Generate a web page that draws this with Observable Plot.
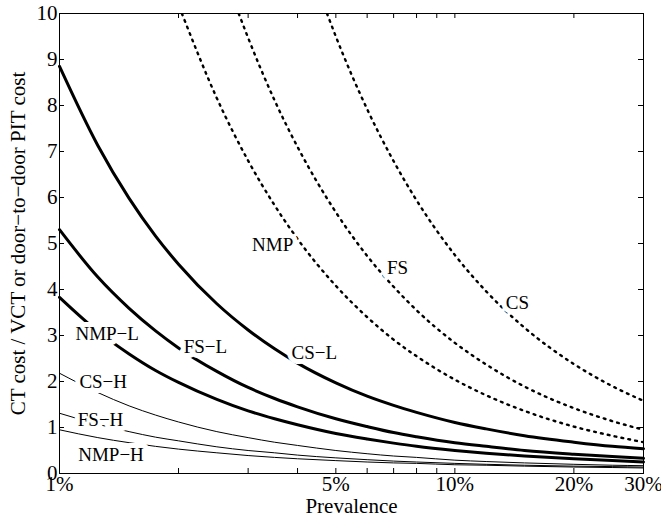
<!DOCTYPE html>
<html>
<head>
<meta charset="utf-8">
<script src="https://cdn.jsdelivr.net/npm/d3@7"></script>
<script src="https://cdn.jsdelivr.net/npm/@observablehq/plot@0.6"></script>
<style>
  html, body { margin: 0; padding: 0; background: #fff; }
</style>
</head>
<body>
<div id="chart"></div>
<script>
// ---- data ----
const prevalence = [1, 1.25, 1.5, 1.75, 2, 2.5, 3, 3.5, 4, 5, 6, 7, 8, 10, 12, 15, 20, 25, 30];
const csL  = [8.85, 7.13, 5.98, 5.16, 4.55, 3.69, 3.12, 2.71, 2.40, 1.97, 1.68, 1.48, 1.33, 1.11, 0.97, 0.82, 0.68, 0.59, 0.54];
const fsL  = [5.30, 4.27, 3.59, 3.10, 2.73, 2.22, 1.87, 1.63, 1.45, 1.19, 1.02, 0.89, 0.80, 0.67, 0.59, 0.50, 0.42, 0.37, 0.33];
const nmpL = [3.83, 3.09, 2.60, 2.24, 1.98, 1.61, 1.36, 1.19, 1.06, 0.87, 0.75, 0.66, 0.59, 0.50, 0.44, 0.38, 0.32, 0.28, 0.25];
const csH  = [2.18, 1.76, 1.47, 1.27, 1.12, 0.91, 0.78, 0.68, 0.61, 0.50, 0.43, 0.38, 0.35, 0.29, 0.26, 0.23, 0.20, 0.18, 0.17];
const fsH  = [1.31, 1.07, 0.91, 0.79, 0.71, 0.58, 0.50, 0.45, 0.40, 0.34, 0.30, 0.27, 0.25, 0.22, 0.20, 0.18, 0.16, 0.15, 0.14];
const nmpH = [0.95, 0.78, 0.67, 0.59, 0.53, 0.45, 0.39, 0.35, 0.32, 0.28, 0.25, 0.23, 0.22, 0.19, 0.18, 0.16, 0.14, 0.13, 0.12];

const nmpDotX = [2.04, 2.5, 3, 3.5, 4, 5, 6, 7, 8, 10, 12, 15, 20, 25, 30];
const nmpDot  = [10, 8.16, 6.80, 5.83, 5.10, 4.08, 3.40, 2.91, 2.55, 2.04, 1.70, 1.36, 1.02, 0.82, 0.68];
const fsDotX  = [2.84, 3, 3.5, 4, 5, 6, 7, 8, 10, 12, 15, 20, 25, 30];
const fsDot   = [10, 9.47, 8.11, 7.10, 5.68, 4.73, 4.06, 3.55, 2.84, 2.37, 1.89, 1.42, 1.14, 0.95];
const csDotX  = [4.75, 5, 6, 7, 8, 10, 12, 15, 20, 25, 30];
const csDot   = [10, 9.50, 7.92, 6.79, 5.94, 4.75, 3.96, 3.17, 2.38, 1.90, 1.58];

const labelText = ["NMP", "FS", "CS", "NMP\u2212L", "FS\u2212L", "CS\u2212L", "CS\u2212H", "FS\u2212H", "NMP\u2212H"];
const labelX    = [3.46, 7.16, 14.4, 1.32, 2.34, 4.41, 1.29, 1.27, 1.35];
const labelY    = [4.98, 4.46, 3.70, 3.04, 2.76, 2.63, 2.00, 1.17, 0.41];

const xTickLabels = [1, 5, 10, 20, 30];
const xTicks = [1, 2, 3, 4, 5, 6, 7, 8, 9, 10, 20, 30];
const yTicks = [0, 1, 2, 3, 4, 5, 6, 7, 8, 9, 10];

const xLabel = "Prevalence";
const yLabel = "CT cost / VCT or door\u2212to\u2212door PIT cost";

// ---- build tables ----
const rows = (xs, ys, name) => xs.map((x, i) => ({x, y: ys[i], name}));
const thick = [...rows(prevalence, csL, "CS-L"), ...rows(prevalence, fsL, "FS-L"), ...rows(prevalence, nmpL, "NMP-L")];
const thin  = [...rows(prevalence, csH, "CS-H"), ...rows(prevalence, fsH, "FS-H"), ...rows(prevalence, nmpH, "NMP-H")];
const dotted = [...rows(nmpDotX, nmpDot, "NMP"), ...rows(fsDotX, fsDot, "FS"), ...rows(csDotX, csDot, "CS")];
const labels = labelText.map((t, i) => ({t, x: labelX[i], y: labelY[i]}));

const W = 661, H = 520;
const mL = 59, mR = 18, mT = 13, mB = 47;
const pw = W - mL - mR, ph = H - mT - mB;
const tk = 5;
const serif = "'Liberation Serif', 'Times New Roman', Times, serif";

const chart = Plot.plot({
  width: W, height: H,
  marginLeft: mL, marginRight: mR, marginTop: mT, marginBottom: mB,
  x: {type: "log", domain: [1, 30], axis: null},
  y: {domain: [0, 10], axis: null},
  style: {fontFamily: serif, background: "white", color: "black", overflow: "visible"},
  marks: [
    Plot.line(thin, {x: "x", y: "y", z: "name", stroke: "black", strokeWidth: 1, curve: "monotone-x"}),
    Plot.line(thick, {x: "x", y: "y", z: "name", stroke: "black", strokeWidth: 3, curve: "monotone-x"}),
    Plot.line(dotted, {x: "x", y: "y", z: "name", stroke: "black", strokeWidth: 2.4, strokeDasharray: "1.8,5.2", curve: "monotone-x", clip: true}),
    Plot.text(labels, {x: "x", y: "y", text: "t", fontSize: 19, fill: "black", stroke: "white", strokeWidth: 10, paintOrder: "stroke", strokeLinejoin: "round"}),
    // ticks (inside, all four sides)
    Plot.tickX(xTicks, {x: d => d, insetTop: ph - tk, stroke: "black"}),
    Plot.tickX(xTicks, {x: d => d, insetBottom: ph - tk, stroke: "black"}),
    Plot.tickY(yTicks, {y: d => d, insetRight: pw - tk, stroke: "black"}),
    Plot.tickY(yTicks, {y: d => d, insetLeft: pw - tk, stroke: "black"}),
    Plot.frame({stroke: "black", strokeWidth: 1}),
    // tick labels
    Plot.text(xTickLabels, {x: d => d, text: d => d + "%", frameAnchor: "bottom", lineAnchor: "top", dy: 3, fontSize: 21, fill: "black"}),
    Plot.text(yTicks, {y: d => d, text: d => String(d), frameAnchor: "left", textAnchor: "end", dx: -2, fontSize: 21, fill: "black"}),
    // axis labels
    Plot.text([xLabel], {text: d => d, frameAnchor: "bottom", textAnchor: "middle", dy: 39, fontSize: 21, fill: "black"}),
    Plot.text([yLabel], {text: d => d, frameAnchor: "left", textAnchor: "middle", dx: -41, rotate: -90, fontSize: 21, fill: "black"})
  ]
});
document.getElementById("chart").appendChild(chart);
</script>
</body>
</html>
